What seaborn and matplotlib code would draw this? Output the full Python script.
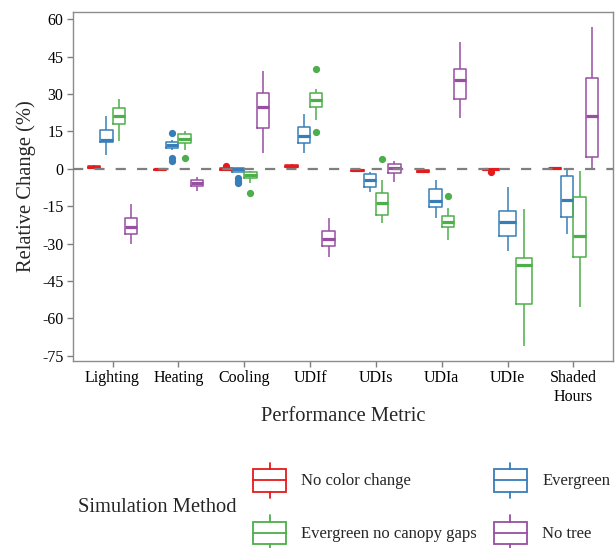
import numpy as np
import pandas as pd
import matplotlib
matplotlib.use("Agg")
import matplotlib.pyplot as plt
import seaborn as sns
from matplotlib.lines import Line2D
from matplotlib.patches import Rectangle
from matplotlib.legend_handler import HandlerBase

# ---------------- data ----------------
metrics = ["Lighting", "Heating", "Cooling", "UDIf", "UDIs", "UDIa", "UDIe", "Shaded\nHours"]
methods = ["No color change", "Evergreen", "Evergreen no canopy gaps", "No tree"]
colors = ["#E41A1C", "#377EB8", "#4DAF4A", "#984EA3"]

no_color_change = [
    [0.2, 0.5, 0.8, 1.2, 1.5],
    [-0.4, -0.3, -0.2, -0.1, 0.0],
    [-0.6, -0.4, -0.3, -0.1, 0.0, 0.1, 0.2, 0.3, 1.0],
    [0.4, 0.8, 1.2, 1.7, 2.1],
    [-1.0, -0.8, -0.6, -0.4, 0.2],
    [-1.6, -1.3, -1.0, -0.6, -0.3],
    [-1.3, -0.5, -0.3, -0.2, -0.1, -0.05, 0.0, 0.05, 0.1],
    [-0.2, 0.0, 0.2, 0.4, 0.6],
]
evergreen = [
    [5.4, 10.6, 11.6, 15.6, 21.2],
    [3.0, 4.2, 7.5, 8.2, 8.6, 9.0, 9.5, 9.8, 10.2, 10.6, 11.0, 11.5, 14.5],
    [-5.8, -4.8, -3.7, -1.3, -1.0, -0.6, -0.2, -0.1, 0.0, 0.2, 0.3, 0.4, 0.5],
    [6.2, 10.2, 13.2, 16.9, 22.0],
    [-9.2, -7.3, -4.5, -2.2, -1.4],
    [-19.9, -15.2, -12.8, -8.1, -4.5],
    [-32.9, -26.8, -21.5, -16.8, -7.4],
    [-26.3, -19.5, -12.5, -2.8, 0.2],
]
evergreen_no_canopy_gaps = [
    [11.3, 18.0, 21.2, 24.5, 27.9],
    [4.5, 7.5, 10.2, 11.0, 11.8, 12.8, 13.8, 14.5, 15.3],
    [-9.6, -5.6, -3.6, -3.0, -2.4, -1.9, -1.4, -1.2, -1.0],
    [14.6, 19.6, 24.9, 26.0, 27.6, 29.0, 30.3, 31.9, 39.9],
    [-21.9, -20.0, -18.6, -16.0, -13.6, -11.5, -9.8, -4.5, 3.8],
    [-28.6, -25.0, -23.2, -22.0, -21.2, -20.0, -18.8, -15.9, -10.9],
    [-71.0, -54.3, -38.6, -35.9, -16.3],
    [-55.6, -35.5, -27.0, -11.4, -0.9],
]
no_tree = [
    [-30.3, -26.2, -23.2, -19.6, -14.1],
    [-8.8, -6.9, -5.6, -4.5, -3.2],
    [6.5, 16.5, 24.9, 30.3, 39.2],
    [-35.5, -31.0, -28.3, -25.0, -19.9],
    [-5.3, -1.6, 0.2, 1.9, 3.1],
    [20.3, 27.9, 35.6, 40.0, 50.8],
    [],
    [0.4, 4.9, 21.3, 36.3, 56.8],
]
yticks = [-75, -60, -45, -30, -15, 0, 15, 30, 45, 60]

series = [no_color_change, evergreen, evergreen_no_canopy_gaps, no_tree]
rows = []
for meth, vals in zip(methods, series):
    for met, v in zip(metrics, vals):
        for x in v:
            rows.append((met, meth, x))
df = pd.DataFrame(rows, columns=["metric", "method", "value"])

# ---------------- style ----------------
sns.set_style("white")
plt.rcParams["font.family"] = ["Liberation Serif", "DejaVu Serif"]

fig = plt.figure(figsize=(6.16, 5.48), dpi=100)
ax = fig.add_axes([73 / 616, 1 - 360.5 / 548, 540 / 616, 348.5 / 548])

# group metrics by which methods are present (ggplot re-dodges when a group is missing)
groups = {}
for met in metrics:
    present = tuple(m for m in methods if (df[(df.metric == met) & (df.method == m)].shape[0] > 0))
    groups.setdefault(present, []).append(met)

for present, mets in groups.items():
    sub = df[df.metric.isin(mets) & df.method.isin(present)]
    pal = [colors[methods.index(m)] for m in present]
    sns.boxplot(data=sub, x="metric", y="value", hue="method", order=metrics,
                hue_order=list(present), palette=pal, fill=False, width=0.75, gap=0,
                linewidth=1.1, showcaps=False, whis=1.5,
                flierprops=dict(marker="o", markersize=4.2),
                medianprops=dict(linewidth=2.3), ax=ax, legend=False)

for ln in ax.lines:
    if ln.get_marker() == "o":
        c = ln.get_markeredgecolor()
        ln.set_markerfacecolor(c)
        ln.set_markeredgecolor(c)

ax.axhline(0, color="#7f7f7f", lw=1.6, dashes=(4.6, 5.0), zorder=5)

ax.set_xlim(-0.6, 7.6)
ax.set_ylim(-76.9, 62.9)
ax.set_yticks(yticks)
ax.set_yticklabels([str(t) for t in yticks])
ax.set_xticks(range(len(metrics)))
ax.set_xticklabels(metrics)

for s in ax.spines.values():
    s.set_visible(True)
    s.set_color("#8c8c8c")
    s.set_linewidth(1.0)
ax.tick_params(axis="both", which="major", length=4, width=1.0, color="#7f7f7f",
               labelsize=11.5, labelcolor="black", bottom=True, left=True)
ax.tick_params(axis="x", pad=3)
ax.tick_params(axis="y", pad=3)

ax.set_xlabel("Performance Metric", fontsize=14.8)
ax.set_ylabel("Relative Change (%)", fontsize=14.8)
ax.xaxis.set_label_coords(0.5, (360.5 - 416.7) / 348.5)
ax.xaxis.label.set_va("center")
ax.yaxis.set_label_coords((26 - 73) / 540, 0.5)
ax.yaxis.label.set_va("center")


class BoxHandler(HandlerBase):
    def create_artists(self, legend, orig_handle, xdescent, ydescent, width, height, fontsize, trans):
        c = orig_handle.get_color()
        x0, y0 = -xdescent, -ydescent
        lo, hi = y0 + 0.18 * height, y0 + 0.82 * height
        rect = Rectangle((x0, lo), width, hi - lo, fill=False, ec=c, lw=1.3, transform=trans)
        med = Line2D([x0, x0 + width], [y0 + 0.5 * height] * 2, color=c, lw=1.3, transform=trans)
        w1 = Line2D([x0 + width / 2] * 2, [hi, y0 + height], color=c, lw=1.3, transform=trans)
        w2 = Line2D([x0 + width / 2] * 2, [y0, lo], color=c, lw=1.3, transform=trans)
        return [rect, med, w1, w2]


handles = [Line2D([], [], color=c) for c in colors]
order = [0, 2, 1, 3]
fig.legend([handles[i] for i in order], [methods[i] for i in order], ncol=2,
           loc="upper left", bbox_to_anchor=(253 / 616, 1 - 463 / 548),
           frameon=False, fontsize=12, borderpad=0, borderaxespad=0,
           handlelength=2.0, handleheight=2.85, labelspacing=1.05,
           handletextpad=0.9, columnspacing=1.0,
           handler_map={Line2D: BoxHandler()})
fig.text(78 / 616, 1 - 507 / 548, "Simulation Method", fontsize=14.8, ha="left", va="center")

fig.savefig("out.png", dpi=100)
